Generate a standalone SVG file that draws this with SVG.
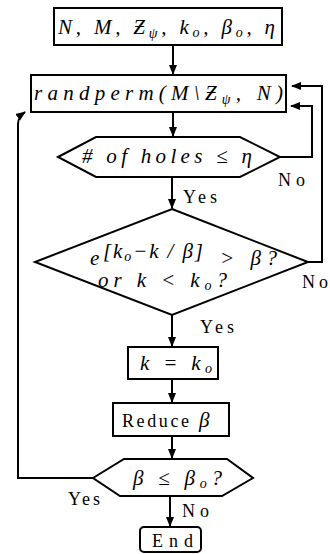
<svg xmlns="http://www.w3.org/2000/svg" width="330" height="554" viewBox="0 0 330 554">
<defs>
<style>
.box{fill:#fff;stroke:#000;stroke-width:2}
.ln{fill:none;stroke:#000;stroke-width:2}
.m{font-family:"Liberation Serif","DejaVu Serif",serif;font-style:italic;font-size:21px;fill:#000}
.r{font-family:"Liberation Serif","DejaVu Serif",serif;font-size:18px;fill:#000}
.s{font-size:14px}
</style>
<marker id="ah" markerUnits="userSpaceOnUse" markerWidth="10" markerHeight="10" viewBox="0 0 10 10" refX="9" refY="5" orient="auto">
<path d="M0,1 L10,5 L0,9 Z" fill="#000"/>
</marker>
</defs>
<rect width="330" height="554" fill="#fff"/>
<g id="connectors">
<line class="ln" x1="173" y1="45" x2="173" y2="74" marker-end="url(#ah)"/>
<line class="ln" x1="173" y1="112" x2="173" y2="136" marker-end="url(#ah)"/>
<line class="ln" x1="172" y1="177" x2="172" y2="208" marker-end="url(#ah)"/>
<line class="ln" x1="172" y1="315" x2="172" y2="346" marker-end="url(#ah)"/>
<line class="ln" x1="172" y1="379" x2="172" y2="402" marker-end="url(#ah)"/>
<line class="ln" x1="172" y1="436" x2="172" y2="458" marker-end="url(#ah)"/>
<line class="ln" x1="170" y1="496" x2="170" y2="526" marker-end="url(#ah)"/>
<polyline class="ln" points="280,157 312,157 312,106 291,106" marker-end="url(#ah)"/>
<polyline class="ln" points="308,262 322,262 322,86 292,86" marker-end="url(#ah)"/>
<path class="ln" d="M93,478 H18 V124 Q18,117 25,112" marker-end="url(#ah)"/>
<text class="r" x="278" y="186" textLength="27" lengthAdjust="spacing">No</text>
<text class="r" x="183" y="203" textLength="34" lengthAdjust="spacing">Yes</text>
<text class="r" x="302" y="288" textLength="26" lengthAdjust="spacing">No</text>
<text class="r" x="200" y="333" textLength="34" lengthAdjust="spacing">Yes</text>
<text class="r" x="68" y="505" textLength="32" lengthAdjust="spacing">Yes</text>
<text class="r" x="182" y="517" textLength="27" lengthAdjust="spacing">No</text>
</g>
<g id="n1">
<rect class="box" x="54" y="8" width="228" height="37"/>
<text class="m" x="58" y="34" textLength="217" lengthAdjust="spacing">N, M, Ƶ<tspan class="s" dy="4">ψ</tspan><tspan dy="-4">, k</tspan><tspan class="s" dy="3">o</tspan><tspan dy="-3">, β</tspan><tspan class="s" dy="3">o</tspan><tspan dy="-3">, η</tspan></text>
</g>
<g id="n2">
<rect class="box" x="31" y="75" width="255" height="37"/>
<text class="m" x="34" y="100" textLength="249" lengthAdjust="spacing">randperm(M\Ƶ<tspan class="s" dy="4">ψ</tspan><tspan dy="-4">, N)</tspan></text>
</g>
<g id="n3">
<polygon class="box" points="58,157 96,137 240,137 280,157 240,177 96,177"/>
<text class="m" x="82" y="163" textLength="170" lengthAdjust="spacing"># of holes ≤ η</text>
</g>
<g id="n4">
<polygon class="box" points="172,209 308,262 172,315 35,262"/>
<text class="m" x="90" y="265">e</text>
<text class="m" x="103" y="258" font-size="19" textLength="100" lengthAdjust="spacing">[k<tspan class="s" font-size="13" dy="3">o</tspan><tspan dy="-3">−k / β]</tspan></text>
<text class="m" x="220" y="265" font-size="19" textLength="57" lengthAdjust="spacing">&gt; β?</text>
<text class="m" x="98" y="287" font-size="20" textLength="129" lengthAdjust="spacing">or  k &lt; k<tspan class="s" dy="3">o</tspan><tspan dy="-3">?</tspan></text>
</g>
<g id="n5">
<rect class="box" x="128" y="347" width="90" height="32"/>
<text class="m" x="140" y="370" textLength="72" lengthAdjust="spacing">k = k<tspan class="s" dy="3">o</tspan></text>
</g>
<g id="n6">
<rect class="box" x="113" y="403" width="116" height="33"/>
<text class="r" x="122" y="427" font-size="19" textLength="67" lengthAdjust="spacing">Reduce</text>
<text class="m" x="199" y="427">β</text>
</g>
<g id="n7">
<polygon class="box" points="93,478 124,459 227,459 253,478 222,496 120,496"/>
<text class="m" x="133" y="485" textLength="89" lengthAdjust="spacing">β ≤ β<tspan class="s" dy="3">o</tspan><tspan dy="-3">?</tspan></text>
</g>
<g id="n8">
<rect class="box" x="140" y="527" width="61" height="25" rx="4"/>
<text class="r" x="152" y="547" font-size="19" textLength="41" lengthAdjust="spacing">End</text>
</g>
</svg>
